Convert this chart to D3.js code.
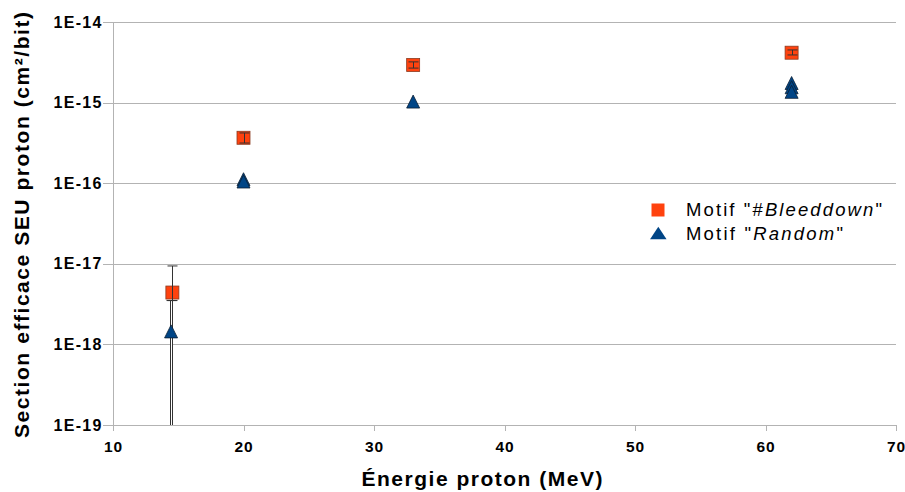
<!DOCTYPE html>
<html><head><meta charset="utf-8">
<script src="https://cdn.jsdelivr.net/npm/d3@7"></script>
<style>body{margin:0;background:#fff}svg{display:block}</style>
</head><body>
<svg id="c" width="905" height="492"></svg>
<script>
// Data
const xTicks = [10, 20, 30, 40, 50, 60, 70];
const yTicks = [1e-19, 1e-18, 1e-17, 1e-16, 1e-15, 1e-14];
const yTickLabels = ["1E-19", "1E-18", "1E-17", "1E-16", "1E-15", "1E-14"];
const bleedEnergy = [14.55, 20, 33, 62];
const bleedValue = [4.4e-18, 3.66e-16, 2.93e-15, 4.16e-15];
const bleedLow = [3.5e-18, 3.15e-16, 2.68e-15, 3.9e-15];
const bleedHigh = [9.4e-18, 4.2e-16, 3.2e-15, 4.5e-15];
const randEnergy = [14.45, 20, 20, 33, 62, 62, 62];
const randValue = [1.45e-18, 1.12e-16, 1.05e-16, 1.03e-15, 1.75e-15, 1.55e-15, 1.36e-15];
const randLow = [1e-20, 1.12e-16, 1.05e-16, 1.03e-15, 1.75e-15, 1.55e-15, 1.36e-15];
const randHigh = [3.5e-18, 1.12e-16, 1.05e-16, 1.03e-15, 1.75e-15, 1.55e-15, 1.36e-15];
const legendLabels = [["Motif \"", "#", "Bleeddown", "\""], ["Motif \"", "", "Random", "\""]];

const svg = d3.select("#c");
const L = 113, R = 896, T = 22, B = 425;
const x = d3.scaleLinear().domain([10, 70]).range([L, R]);
const y = d3.scaleLog().domain([1e-19, 1e-14]).range([B, T]);
const grid = "#b3b3b3";

// grid
svg.append("g").selectAll("line").data(yTicks).join("line")
  .attr("x1", L - 10).attr("x2", R)
  .attr("y1", d => Math.round(y(d)) + 0.5).attr("y2", d => Math.round(y(d)) + 0.5)
  .attr("stroke", grid).attr("stroke-width", 1);
// y axis line
svg.append("line").attr("x1", L + 0.5).attr("x2", L + 0.5).attr("y1", T).attr("y2", B + 6)
  .attr("stroke", grid);
// x ticks
svg.append("g").selectAll("line").data(xTicks).join("line")
  .attr("x1", d => Math.round(x(d)) + 0.5).attr("x2", d => Math.round(x(d)) + 0.5)
  .attr("y1", B).attr("y2", B + 6).attr("stroke", grid);

const font = "'Liberation Sans', Arial, sans-serif";
svg.append("g").selectAll("text").data(yTicks).join("text")
  .attr("x", L - 11.5).attr("y", d => y(d)).attr("dy", "0.35em")
  .attr("text-anchor", "end").attr("font-family", font).attr("font-weight", "bold")
  .attr("font-size", 16).attr("fill", "#000")
  .attr("textLength", 48).attr("lengthAdjust", "spacing")
  .text((d, i) => yTickLabels[i]);
svg.append("g").selectAll("text").data(xTicks).join("text")
  .attr("x", d => x(d)).attr("y", 452)
  .attr("text-anchor", "middle").attr("font-family", font).attr("font-weight", "bold")
  .attr("font-size", 15.5).attr("fill", "#000")
  .attr("textLength", 18).attr("lengthAdjust", "spacing")
  .text(d => d);

// axis titles
svg.append("text").attr("x", 482).attr("y", 486).attr("text-anchor", "middle")
  .attr("font-family", font).attr("font-weight", "bold").attr("font-size", 21)
  .attr("textLength", 241).attr("lengthAdjust", "spacing")
  .text("Énergie proton (MeV)");
svg.append("text").attr("transform", "translate(29,225) rotate(-90)").attr("text-anchor", "middle")
  .attr("font-family", font).attr("font-weight", "bold").attr("font-size", 21)
  .attr("textLength", 426).attr("lengthAdjust", "spacing")
  .text("Section efficace SEU proton (cm²/bit)");

function triPath(w, h) {
  return `M0,${-h / 2}L${w / 2},${h / 2}L${-w / 2},${h / 2}Z`;
}

// error bars for random series (double line)
(function () {
  const g = svg.append("g");
  randEnergy.forEach((e, i) => {
    const xs = Math.round(x(e)) + 0.5;
    const y1 = Math.min(B, y(randLow[i])), y2 = y(randHigh[i]);
    if (Math.abs(y1 - y2) < 1) return;
    g.append("line").attr("x1", xs).attr("x2", xs).attr("y1", y1).attr("y2", y2)
      .attr("stroke", "#333").attr("stroke-width", 3);
    g.append("line").attr("x1", xs).attr("x2", xs).attr("y1", y1).attr("y2", y2)
      .attr("stroke", "#fff").attr("stroke-width", 1);
    [randLow[i], randHigh[i]].forEach(v => {
      if (y(v) > B) return;
      g.append("line").attr("x1", xs - 5).attr("x2", xs + 5).attr("y1", y(v)).attr("y2", y(v))
        .attr("stroke", "#333").attr("stroke-width", 1);
    });
  });
})();

// squares
const sq = 13;
svg.append("g").selectAll("rect").data(bleedEnergy).join("rect")
  .attr("x", d => x(d) - sq / 2).attr("y", (d, i) => y(bleedValue[i]) - sq / 2)
  .attr("width", sq).attr("height", sq).attr("fill", "#ff420e").attr("stroke", "#8a3a20").attr("stroke-width", 0.8);
// error bars for squares on top
(function () {
  const g = svg.append("g");
  bleedEnergy.forEach((e, i) => {
    const xs = Math.round(x(e)) + 0.5;
    g.append("line").attr("x1", xs).attr("x2", xs).attr("y1", y(bleedLow[i])).attr("y2", y(bleedHigh[i]))
      .attr("stroke", "#333").attr("stroke-width", 1);
    [bleedLow[i], bleedHigh[i]].forEach(v => {
      g.append("line").attr("x1", xs - 5).attr("x2", xs + 5).attr("y1", y(v)).attr("y2", y(v))
        .attr("stroke", "#333").attr("stroke-width", 1);
    });
  });
})();

// triangles
svg.append("g").selectAll("path").data(randEnergy).join("path")
  .attr("d", triPath(13, 13)).attr("transform", (d, i) => `translate(${x(d)},${y(randValue[i])})`)
  .attr("fill", "#004586").attr("stroke", "#0a1e33").attr("stroke-width", 0.8);

// legend
const lg = svg.append("g");
lg.append("rect").attr("x", 651.5).attr("y", 203.5).attr("width", 13).attr("height", 13).attr("fill", "#ff420e");
lg.append("path").attr("d", triPath(16.5, 12.5)).attr("transform", "translate(658.3,233)").attr("fill", "#004586");
const legendWidths = [196, 157];
legendLabels.forEach((parts, i) => {
  const t = lg.append("text").attr("x", 686).attr("y", 216 + i * 24)
    .attr("font-family", font).attr("font-size", 18.5).attr("fill", "#000")
    .attr("textLength", legendWidths[i]).attr("lengthAdjust", "spacing");
  t.append("tspan").text(parts[0]);
  if (parts[1]) t.append("tspan").text(parts[1]);
  t.append("tspan").attr("font-style", "italic").text(parts[2]);
  t.append("tspan").text(parts[3]);
});
</script>
</body></html>
